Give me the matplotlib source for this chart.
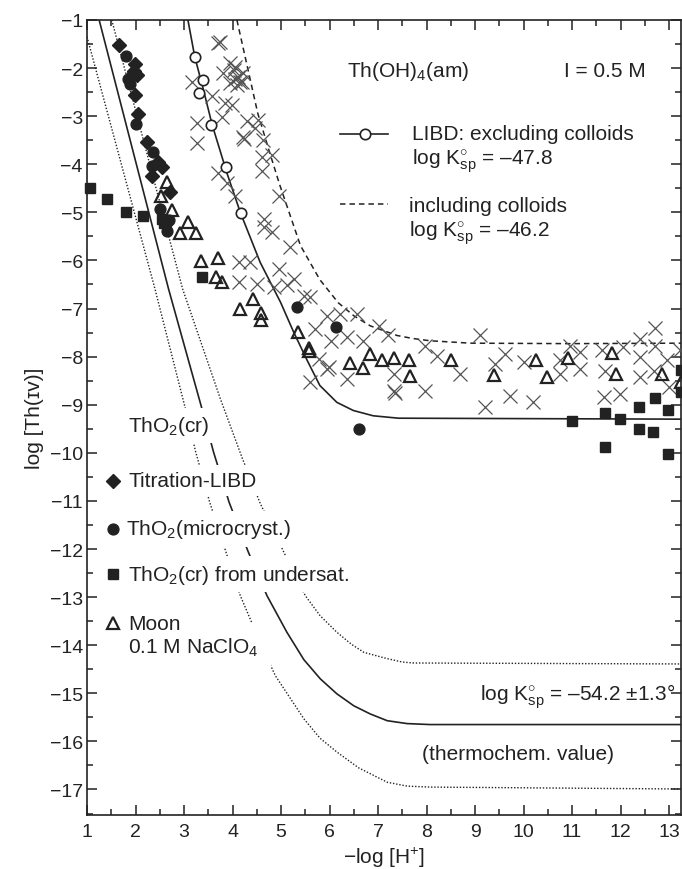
import matplotlib
matplotlib.use("Agg")
import matplotlib.pyplot as plt

plt.rcParams["font.family"] = ["Liberation Sans", "DejaVu Sans"]
plt.rcParams["mathtext.fontset"] = "custom"
plt.rcParams["mathtext.rm"] = "Liberation Sans"
plt.rcParams["mathtext.it"] = "Liberation Sans:italic"
plt.rcParams["mathtext.bf"] = "Liberation Sans:bold"

INK = "#222222"
GREY = "#555555"

# ---- model curves ----
libd_x = [3.08, 3.22, 3.40, 3.58, 3.89, 4.16, 4.57, 4.99, 5.26, 5.54, 5.80, 6.15, 6.49, 6.90, 7.42, 13.25]
libd_y = [-1.0, -1.76, -2.45, -3.18, -4.20, -5.00, -6.04, -6.87, -7.49, -8.08, -8.60, -8.95, -9.12, -9.23, -9.28, -9.30]

coll_x = [4.09, 4.52, 4.77, 4.97, 5.40, 5.80, 6.18, 6.50, 6.84, 7.39, 7.70, 8.07, 8.90, 10.96, 13.25]
coll_y = [-1.0, -2.94, -3.77, -4.42, -5.69, -6.40, -6.88, -7.15, -7.36, -7.56, -7.62, -7.67, -7.72, -7.73, -7.72]

tho2_x = [1.25, 2.68, 3.36, 3.61, 3.93, 4.32, 4.71, 5.12, 5.47, 5.81, 6.15, 6.50, 6.84, 7.19, 7.60, 8.07, 13.25]
tho2_y = [-1.0, -6.59, -9.05, -9.99, -11.03, -12.05, -12.97, -13.73, -14.30, -14.70, -15.01, -15.26, -15.43,
          -15.57, -15.63, -15.65, -15.65]

tho2_lo_x = [1.0, 2.40, 3.02, 3.24, 3.53, 3.86, 4.16, 4.54, 4.88, 5.47, 5.80, 6.15, 6.60, 7.19, 7.60, 8.07, 13.25]
tho2_lo_y = [-1.35, -6.59, -9.05, -9.98, -11.03, -12.05, -12.97, -13.87, -14.63, -15.53, -15.93, -16.22, -16.55,
             -16.85, -16.93, -16.95, -16.99]

tho2_hi_x = [1.51, 2.97, 3.75, 4.20, 4.57, 5.05, 5.50, 5.80, 6.15, 6.45, 6.71, 7.19, 7.50, 7.73, 13.25]
tho2_hi_y = [-1.0, -6.59, -8.88, -10.11, -11.05, -12.05, -12.97, -13.38, -13.73, -13.98, -14.15, -14.28, -14.35,
             -14.37, -14.39]

# ---- measured data ----
libd_pts_x = [3.23, 3.39, 3.30, 3.56, 3.87, 4.17]
libd_pts_y = [-1.78, -2.25, -2.52, -3.18, -4.05, -5.01]

titr_x = [1.66, 1.99, 1.96, 2.03, 1.99, 2.06, 2.23, 2.47, 2.33, 2.71, 2.55]
titr_y = [-1.52, -1.91, -2.06, -2.15, -2.57, -2.95, -3.54, -3.96, -4.24, -4.58, -4.05]

micro_x = [1.80, 1.85, 1.89, 1.92, 2.01, 2.35, 2.33, 2.51, 2.65, 2.68, 2.64, 5.33, 6.14, 6.61]
micro_y = [-1.74, -2.23, -2.33, -2.15, -3.16, -3.75, -4.03, -4.93, -5.21, -5.15, -5.38, -6.97, -7.38, -9.50]

under_x = [1.06, 1.41, 1.80, 2.16, 2.55, 2.58, 3.37, 11.0, 11.68, 11.98, 11.68, 12.38,
           12.70, 12.97, 12.38, 12.66, 12.97, 13.25, 13.25]
under_y = [-4.49, -4.72, -5.00, -5.08, -5.14, -5.22, -6.34, -9.33, -9.17, -9.30, -9.88, -9.05,
           -8.86, -9.10, -9.50, -9.57, -10.03, -8.28, -8.74]

moon_x = [2.65, 2.53, 2.75, 3.08, 2.92, 3.25, 3.36, 3.70, 3.66, 3.79, 4.16, 4.43, 4.58, 4.58,
          5.36, 5.58, 5.58, 6.42, 6.70, 6.84, 7.09, 7.33, 7.63, 7.65, 8.50, 9.40, 10.26, 10.48,
          10.92, 11.82, 11.90, 12.85, 13.25]
moon_y = [-4.36, -4.67, -4.96, -5.20, -5.42, -5.42, -6.02, -5.94, -6.34, -6.44, -7.01, -6.80, -7.10, -7.23,
          -7.48, -7.82, -7.88, -8.13, -8.24, -7.94, -8.06, -8.03, -8.08, -8.41, -8.06, -8.39, -8.08, -8.43,
          -8.03, -7.92, -8.36, -8.36, -8.53]

other_x = [3.71, 3.74, 3.95, 4.05, 3.81, 4.02, 4.12, 3.95, 4.19, 4.05, 4.22, 4.15, 4.10,
           3.16, 3.57, 3.85, 3.98, 3.78, 3.27, 3.27, 4.29, 4.53, 4.46, 4.22, 4.24, 4.63,
           4.60, 4.81, 4.60, 3.71, 3.88, 4.06, 4.95,
           4.64, 4.64, 4.81, 5.19, 4.13, 4.37, 4.95, 4.13, 4.51, 4.85, 5.12, 5.26, 5.47, 5.60,
           5.95, 5.71, 6.02, 5.78, 5.98, 5.94, 5.60,
           6.22, 6.56, 6.35, 6.70, 7.01, 7.21, 6.35, 7.32, 7.35, 7.32, 7.97, 7.97, 8.21, 8.69,
           9.10, 9.21, 9.41, 9.62, 9.72, 10.01, 10.19, 10.75, 10.75, 10.96, 11.16, 11.16,
           11.61, 11.68, 11.65, 11.98, 12.06, 12.40, 12.40, 12.40, 12.70, 12.70, 12.95, 12.99,
           12.68, 13.23]
other_y = [-1.48, -1.45, -1.90, -1.98, -2.11, -2.04, -2.18, -2.32, -2.28, -2.22, -2.11, -2.30, -2.35,
           -2.28, -2.59, -2.73, -2.77, -3.01, -3.15, -3.56, -3.11, -3.08, -3.25, -3.43, -3.47, -3.50,
           -3.84, -3.81, -4.15, -4.19, -4.40, -4.65, -4.65,
           -5.14, -5.31, -5.41, -5.73, -6.04, -6.04, -6.18, -6.45, -6.49, -6.56, -6.52, -6.38, -6.73, -6.77,
           -7.15, -7.42, -7.67, -8.05, -8.22, -8.25, -8.53,
           -7.11, -7.11, -7.60, -7.67, -7.36, -7.56, -8.46, -8.71, -8.75, -8.36, -8.71, -7.77, -7.98, -8.36,
           -7.56, -9.05, -8.15, -7.94, -8.81, -8.12, -8.95, -8.08, -8.36, -7.77, -7.91, -8.26,
           -7.87, -8.29, -8.84, -8.78, -7.80, -7.63, -8.01, -8.43, -7.40, -7.77, -8.08, -8.64,
           -8.29, -7.87]

fig = plt.figure(figsize=(6.82, 8.70), dpi=100)
ax = fig.add_axes([0.1276, 0.0621, 0.8710, 0.9138])

# curves
dots = (0, (1, 1.3))
dash = (0, (3.6, 2.6))
ax.plot(tho2_x, tho2_y, color=INK, lw=1.2, zorder=2)
ax.plot(tho2_lo_x, tho2_lo_y, color=INK, lw=1.0, ls=dots, zorder=2)
ax.plot(tho2_hi_x, tho2_hi_y, color=INK, lw=1.0, ls=dots, zorder=2)
ax.plot(libd_x, libd_y, color=INK, lw=1.2, zorder=2)
ax.plot(coll_x, coll_y, color=INK, lw=1.1, ls=dash, zorder=2)

# data
ax.plot(other_x, other_y, ls="none", marker="x", ms=9.5, mew=0.9, color=GREY, zorder=3)
ax.plot(moon_x, moon_y, ls="none", marker="^", ms=8.5, mew=1.6, mfc="none", mec=INK, zorder=4)
ax.plot(under_x, under_y, ls="none", marker="s", ms=7.5, color=INK, zorder=4, clip_on=False)
ax.plot(micro_x, micro_y, ls="none", marker="o", ms=7.8, color=INK, zorder=4)
ax.plot(titr_x, titr_y, ls="none", marker="D", ms=7.5, color=INK, zorder=4)
ax.plot(libd_pts_x, libd_pts_y, ls="none", marker="o", ms=7.5, mfc="white", mec=INK, mew=1.2, zorder=5)

ax.set_xlim(1, 13.247)
ax.set_ylim(-17.53, -1)
ax.set_xticks(range(1, 14))
ax.set_yticks(range(-17, 0))
ax.set_xticks([x + 0.5 for x in range(1, 13)], minor=True)
ax.set_yticks([y - 0.5 for y in range(-17, 0)], minor=True)
ax.tick_params(which="both", direction="in", top=True, right=True, width=1.1, colors=INK, labelsize=14)
ax.tick_params(which="major", length=7)
ax.tick_params(which="minor", length=4)
ax.tick_params(axis="x", pad=6)
ax.tick_params(axis="y", pad=3)
for s in ax.spines.values():
    s.set_linewidth(1.2)
    s.set_color(INK)

ax.set_xlabel("\u2212log [H$^{+}$]", fontsize=15, color=INK, labelpad=3)
ax.set_ylabel("log [Th(\u026a\u1d20)]", fontsize=15, color=INK, labelpad=4)

box = dict(boxstyle="square,pad=0.3", fc="white", ec="none")
fs = 15

# left legend
ax.text(1.85, -9.43, "ThO$_2$(cr)", fontsize=fs, color=INK, va="center", bbox=box, zorder=6)
ax.plot([1.54], [-10.58], marker="D", ms=7.5, color=INK, zorder=7)
ax.text(1.85, -10.58, "Titration-LIBD", fontsize=fs, color=INK, va="center", bbox=box, zorder=6)
ax.plot([1.54], [-11.58], marker="o", ms=7.8, color=INK, zorder=7)
ax.text(1.80, -11.58, "ThO$_2$(microcryst.)", fontsize=fs, color=INK, va="center", bbox=box, zorder=6)
ax.plot([1.54], [-12.52], marker="s", ms=7.5, color=INK, zorder=7)
ax.text(1.85, -12.52, "ThO$_2$(cr) from undersat.", fontsize=fs, color=INK, va="center", bbox=box, zorder=6)
ax.text(1.85, -14.04, "0.1 M NaClO$_4$", fontsize=fs, color=INK, va="center",
        bbox=dict(boxstyle="square,pad=0.6", fc="white", ec="none"), zorder=6)
ax.plot([1.54], [-13.54], marker="^", ms=8.5, mew=1.6, mfc="none", mec=INK, zorder=7)
ax.text(1.85, -13.54, "Moon", fontsize=fs, color=INK, va="center", zorder=7)

# upper right annotations
ax.text(6.37, -2.05, "Th(OH)$_4$(am)", fontsize=fs, color=INK, va="center")
ax.text(10.83, -2.05, "I = 0.5 M", fontsize=fs, color=INK, va="center")
ax.plot([6.22, 7.21], [-3.38, -3.38], color=INK, lw=1.2)
ax.plot([6.73], [-3.38], marker="o", ms=7.5, mfc="white", mec=INK, mew=1.2)
ax.text(7.71, -3.37, "LIBD: excluding colloids", fontsize=fs, color=INK, va="center")
ax.text(7.71, -3.92, "log $\\mathrm{K^{\\circ}_{sp}}$ = \u201347.8", fontsize=fs, color=INK, va="center")
ax.plot([6.22, 7.21], [-4.83, -4.83], color=INK, lw=1.1, ls=dash)
ax.text(7.64, -4.86, "including colloids", fontsize=fs, color=INK, va="center")
ax.text(7.64, -5.41, "log $\\mathrm{K^{\\circ}_{sp}}$ = \u201346.2", fontsize=fs, color=INK, va="center")

ax.text(13.12, -15.05, "log $\\mathrm{K^{\\circ}_{sp}}$ = \u201354.2 \u00b11.3\u00b0", fontsize=fs, color=INK,
        va="center", ha="right")
ax.text(7.9, -16.26, "(thermochem. value)", fontsize=fs, color=INK, va="center")

fig.savefig("out.png", dpi=100)
